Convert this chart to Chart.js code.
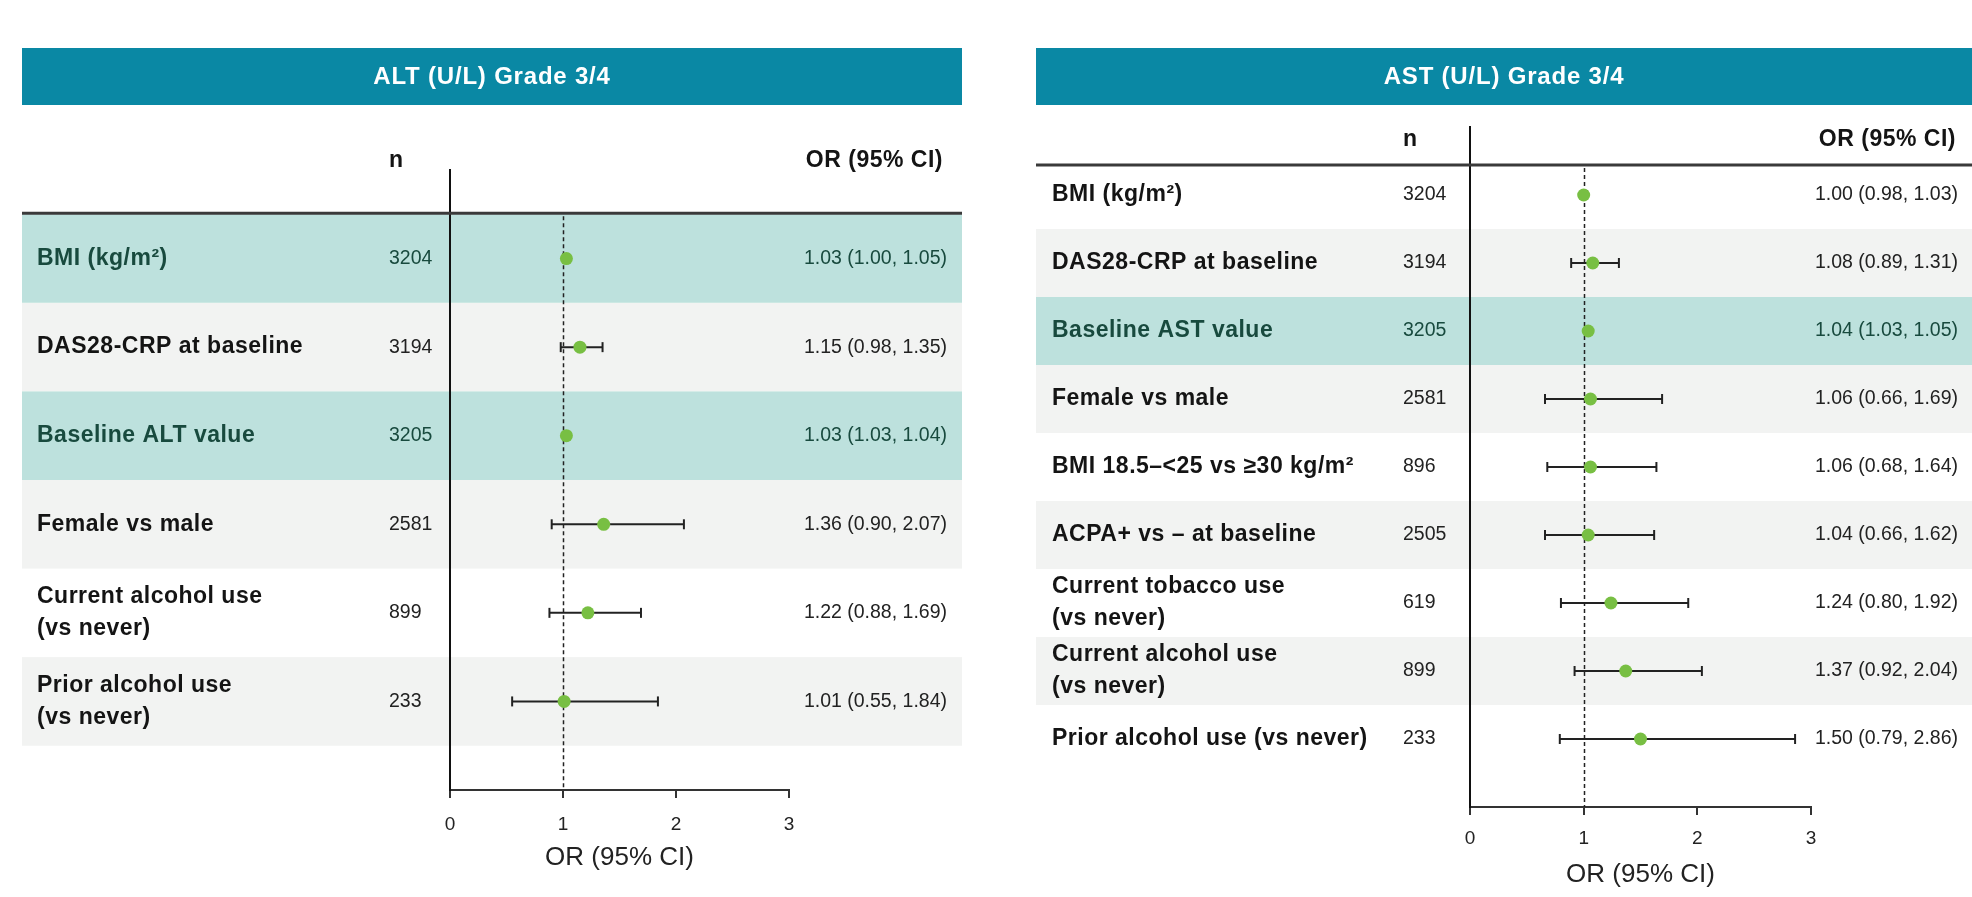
<!DOCTYPE html>
<html>
<head>
<meta charset="utf-8">
<title>Odds ratios for ALT and AST Grade 3/4 elevations</title>
<script src="https://cdn.jsdelivr.net/npm/chart.js@4.4.1/dist/chart.umd.min.js"></script>
<style>
  html, body { margin: 0; padding: 0; background: #ffffff; }
  #wrap { position: relative; width: 1972px; height: 897px; overflow: hidden; background: #ffffff; }
  canvas { position: absolute; top: 0; }
  #altCanvas { left: 0; }
  #astCanvas { left: 1000px; }
</style>
</head>
<body>
<div id="wrap">
  <canvas id="altCanvas" width="1000" height="897"></canvas>
  <canvas id="astCanvas" width="972" height="897"></canvas>
</div>
<script>
// ---- ALT (U/L) Grade 3/4 ----
const altTitle = 'ALT (U/L) Grade 3/4';
const altLabels = [
  'BMI (kg/m²)',
  'DAS28-CRP at baseline',
  'Baseline ALT value',
  'Female vs male',
  ['Current alcohol use', '(vs never)'],
  ['Prior alcohol use', '(vs never)']
];
const altN     = [3204, 3194, 3205, 2581, 899, 233];
const altOR    = [1.03, 1.15, 1.03, 1.36, 1.22, 1.01];
const altLower = [1.00, 0.98, 1.03, 0.90, 0.88, 0.55];
const altUpper = [1.05, 1.35, 1.04, 2.07, 1.69, 1.84];

// ---- AST (U/L) Grade 3/4 ----
const astTitle = 'AST (U/L) Grade 3/4';
const astLabels = [
  'BMI (kg/m²)',
  'DAS28-CRP at baseline',
  'Baseline AST value',
  'Female vs male',
  'BMI 18.5–<25 vs ≥30 kg/m²',
  'ACPA+ vs – at baseline',
  ['Current tobacco use', '(vs never)'],
  ['Current alcohol use', '(vs never)'],
  'Prior alcohol use (vs never)'
];
const astN     = [3204, 3194, 3205, 2581, 896, 2505, 619, 899, 233];
const astOR    = [1.00, 1.08, 1.04, 1.06, 1.06, 1.04, 1.24, 1.37, 1.50];
const astLower = [0.98, 0.89, 1.03, 0.66, 0.68, 0.66, 0.80, 0.92, 0.79];
const astUpper = [1.03, 1.31, 1.05, 1.69, 1.64, 1.62, 1.92, 2.04, 2.86];

// x-axis ticks shared by both panels
const xTickValues = [0, 1, 2, 3];
const xAxisTitle = 'OR (95% CI)';
const nHeader = 'n';
const orHeader = 'OR (95% CI)';

// ---- styling ----
const FONT = "'Liberation Sans', Arial, Helvetica, sans-serif";
const HEADER_BG = '#0a88a4';
const TEAL_ROW = '#bde1dd';
const GRAY_ROW = '#f2f3f2';
const TEAL_TEXT = '#184a3e';
const DARK_TEXT = '#141414';
const NUM_TEXT = '#222222';
const MARKER = '#78bf43';
const LINE = '#222222';

Chart.defaults.font.family = FONT;
Chart.defaults.animation = false;

function fmt(v) { return v.toFixed(2); }

function setSpacing(ctx, px) {
  if ('letterSpacing' in ctx) ctx.letterSpacing = px + 'px';
}

function buildPanel(cfg) {
  const { canvasId, title, labels, n, or, lower, upper, layout } = cfg;
  // rows whose CI lies entirely at or above 1 are shaded teal
  const highlighted = lower.map(lo => lo >= 1);

  const decor = {
    id: 'forestDecor',
    beforeDraw(chart) {
      const ctx = chart.ctx;
      const y = chart.scales.y;
      ctx.save();
      // title bar
      ctx.fillStyle = HEADER_BG;
      ctx.fillRect(layout.bandLeft, 48, layout.bandRight - layout.bandLeft, 57);
      ctx.fillStyle = '#ffffff';
      ctx.font = 'bold 24px ' + FONT;
      setSpacing(ctx, 0.8);
      ctx.textAlign = 'center';
      ctx.textBaseline = 'middle';
      ctx.fillText(title, (layout.bandLeft + layout.bandRight) / 2, 77);
      setSpacing(ctx, 0);
      // row bands
      labels.forEach((_, i) => {
        const top = y.getPixelForValue(i - 0.5);
        const bottom = y.getPixelForValue(i + 0.5);
        let fill = null;
        if (highlighted[i]) fill = TEAL_ROW;
        else if (i % 2 === 1) fill = GRAY_ROW;
        if (fill) {
          ctx.fillStyle = fill;
          ctx.fillRect(layout.bandLeft, top, layout.bandRight - layout.bandLeft, bottom - top);
        }
      });
      ctx.restore();
    },
    beforeDatasetsDraw(chart) {
      const ctx = chart.ctx;
      const x = chart.scales.x, y = chart.scales.y;
      const ruleY = y.getPixelForValue(-0.5) + layout.ruleShift;
      ctx.save();
      // header rule
      ctx.strokeStyle = '#3a3a3a';
      ctx.lineWidth = 3;
      ctx.beginPath();
      ctx.moveTo(layout.bandLeft, ruleY);
      ctx.lineTo(layout.bandRight, ruleY);
      ctx.stroke();
      // reference line at OR = 1
      const x1 = Math.round(x.getPixelForValue(1)) + 0.5;
      ctx.strokeStyle = LINE;
      ctx.lineWidth = 1.5;
      ctx.setLineDash([4, 3]);
      ctx.beginPath();
      ctx.moveTo(x1, ruleY + 3);
      ctx.lineTo(x1, chart.chartArea.bottom);
      ctx.stroke();
      ctx.restore();
    },
    afterDraw(chart) {
      const ctx = chart.ctx;
      const y = chart.scales.y;
      ctx.save();
      ctx.textBaseline = 'middle';
      // column headers
      ctx.fillStyle = DARK_TEXT;
      ctx.font = 'bold 23px ' + FONT;
      setSpacing(ctx, 0.5);
      ctx.textAlign = 'left';
      ctx.fillText(nHeader, layout.nX, layout.headerY);
      ctx.textAlign = 'right';
      ctx.fillText(orHeader, layout.orRight, layout.headerY);
      // rows
      labels.forEach((lab, i) => {
        const cy = y.getPixelForValue(i);
        const teal = highlighted[i];
        ctx.fillStyle = teal ? TEAL_TEXT : DARK_TEXT;
        ctx.font = 'bold 23px ' + FONT;
        setSpacing(ctx, 0.5);
        ctx.textAlign = 'left';
        const lines = Array.isArray(lab) ? lab : [lab];
        const lh = 32;
        lines.forEach((line, k) => {
          const ly = cy + (k - (lines.length - 1) / 2) * lh;
          ctx.fillText(line, layout.labelX, ly);
        });
        setSpacing(ctx, 0);
        ctx.font = '19.5px ' + FONT;
        ctx.fillStyle = teal ? TEAL_TEXT : NUM_TEXT;
        ctx.textAlign = 'left';
        ctx.fillText(String(n[i]), layout.nX, cy);
        ctx.textAlign = 'right';
        ctx.fillText(fmt(or[i]) + ' (' + fmt(lower[i]) + ', ' + fmt(upper[i]) + ')', layout.valueRight, cy);
      });
      ctx.restore();
    }
  };

  const pointSet = {
    label: 'OR',
    data: or.map((v, i) => ({ x: v, y: i })),
    showLine: false,
    pointRadius: 6.5,
    pointBackgroundColor: MARKER,
    pointBorderColor: MARKER,
    pointBorderWidth: 0,
    order: 1
  };
  const ciSets = lower.map((lo, i) => ({
    label: 'CI ' + i,
    data: [{ x: lo, y: i }, { x: upper[i], y: i }],
    showLine: true,
    borderColor: LINE,
    borderWidth: 2,
    pointStyle: 'line',
    rotation: 90,
    pointRadius: 5,
    pointBorderWidth: 2,
    pointBorderColor: LINE,
    order: 2
  }));

  return new Chart(document.getElementById(canvasId), {
    type: 'scatter',
    data: { datasets: [pointSet, ...ciSets] },
    options: {
      responsive: false,
      devicePixelRatio: 1,
      animation: false,
      layout: { padding: layout.padding },
      plugins: { legend: { display: false }, tooltip: { enabled: false }, title: { display: false } },
      scales: {
        x: {
          type: 'linear',
          position: 'bottom',
          min: xTickValues[0],
          max: xTickValues[xTickValues.length - 1],
          afterBuildTicks: s => { s.ticks = xTickValues.map(v => ({ value: v })); },
          ticks: { color: '#222', font: { size: 19, family: FONT }, padding: layout.tickPad, maxRotation: 0 },
          grid: { drawOnChartArea: false, drawTicks: true, tickLength: 8, color: '#333', lineWidth: 2 },
          border: { display: true, color: '#333', width: 2 },
          title: { display: true, text: xAxisTitle, color: '#222', font: { size: 26, family: FONT }, padding: { top: 6, bottom: 4 } },
          afterFit: s => { s.height = 87; }
        },
        y: {
          type: 'linear',
          position: 'left',
          min: -1,
          max: labels.length,
          reverse: true,
          ticks: { display: false },
          grid: { display: false, drawTicks: false },
          border: { display: true, color: '#111', width: 2 },
          afterFit: s => { s.width = 0; }
        }
      }
    },
    plugins: [decor]
  });
}

buildPanel({
  canvasId: 'altCanvas', title: altTitle, labels: altLabels,
  n: altN, or: altOR, lower: altLower, upper: altUpper,
  layout: {
    padding: { left: 450, right: 211, top: 170, bottom: 20 },
    bandLeft: 22, bandRight: 962, ruleShift: -1, headerY: 161, tickPad: 15,
    labelX: 37, nX: 389, valueRight: 947, orRight: 943
  }
});

buildPanel({
  canvasId: 'astCanvas', title: astTitle, labels: astLabels,
  n: astN, or: astOR, lower: astLower, upper: astUpper,
  layout: {
    padding: { left: 470, right: 161, top: 127, bottom: 3 },
    bandLeft: 36, bandRight: 972, ruleShift: 4, headerY: 140, tickPad: 12,
    labelX: 52, nX: 403, valueRight: 958, orRight: 956
  }
});
</script>
</body>
</html>
